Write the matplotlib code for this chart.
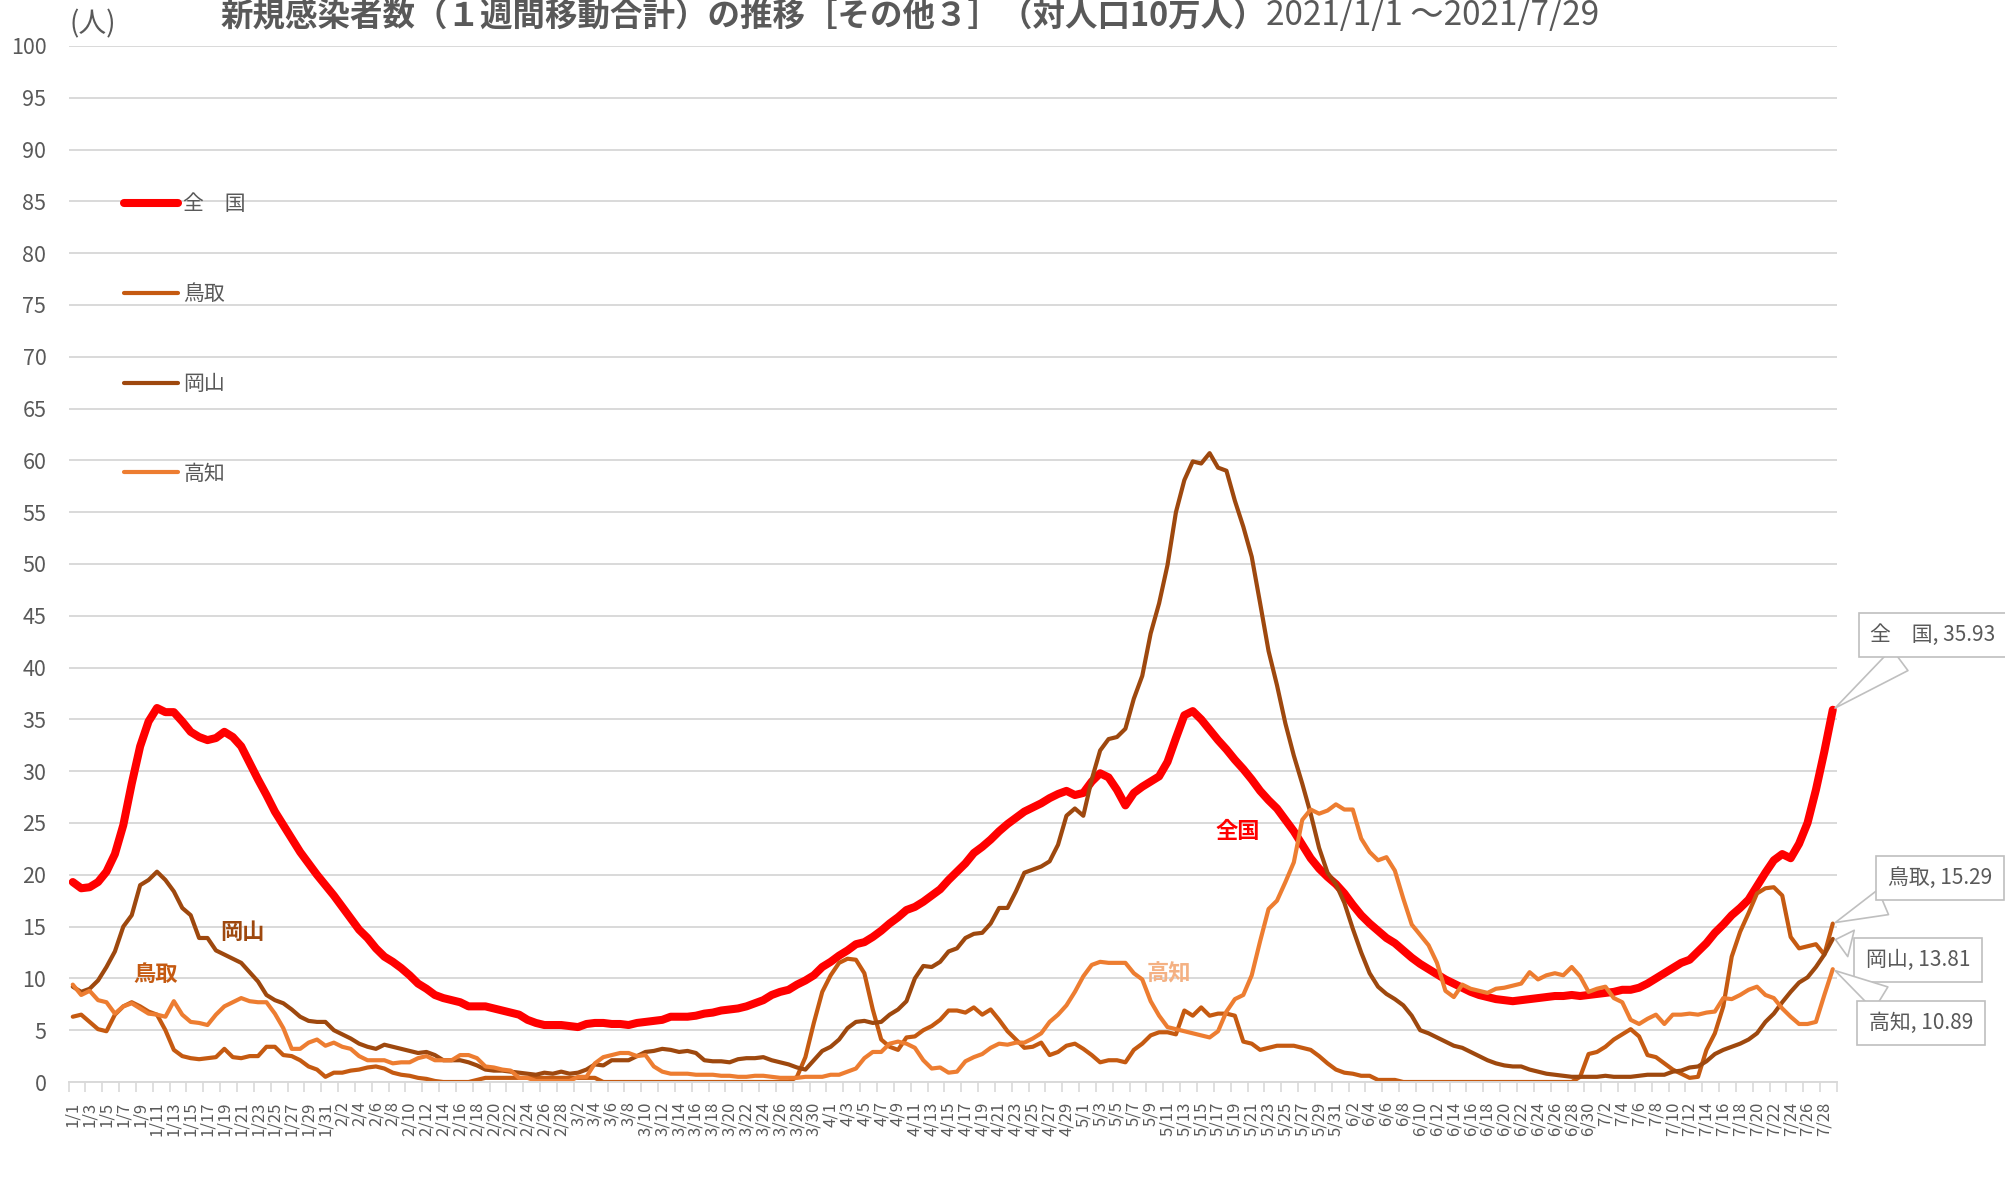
import matplotlib
matplotlib.use('Agg')
import matplotlib.pyplot as plt
import numpy as np
import pandas as pd

plt.rcParams['font.family'] = ['Noto Sans CJK JP', 'DejaVu Sans']

# daily values, 2021/1/1 - 2021/7/29 (per 100k, 7-day sum)
dates = pd.date_range('2021-01-01', '2021-07-29', freq='D')

zenkoku = [
    19.3, 18.7, 18.8, 19.3, 20.3, 22.0, 24.8, 28.8, 32.4, 34.8,
    36.1, 35.7, 35.7, 34.8, 33.8, 33.3, 33.0, 33.2, 33.8, 33.3,
    32.4, 30.8, 29.2, 27.7, 26.1, 24.8, 23.5, 22.2, 21.1, 20.0,
    19.0, 18.0, 16.9, 15.8, 14.7, 13.9, 12.9, 12.1, 11.6, 11.0,
    10.3, 9.5, 9.0, 8.4, 8.1, 7.9, 7.7, 7.3, 7.3, 7.3,
    7.1, 6.9, 6.7, 6.5, 6.0, 5.7, 5.5, 5.5, 5.5, 5.4,
    5.3, 5.6, 5.7, 5.7, 5.6, 5.6, 5.5, 5.7, 5.8, 5.9,
    6.0, 6.3, 6.3, 6.3, 6.4, 6.6, 6.7, 6.9, 7.0, 7.1,
    7.3, 7.6, 7.9, 8.4, 8.7, 8.9, 9.4, 9.8, 10.3, 11.1,
    11.6, 12.2, 12.7, 13.3, 13.5, 14.0, 14.6, 15.3, 15.9, 16.6,
    16.9, 17.4, 18.0, 18.6, 19.5, 20.3, 21.1, 22.1, 22.7, 23.4,
    24.2, 24.9, 25.5, 26.1, 26.5, 26.9, 27.4, 27.8, 28.1, 27.7,
    27.9, 29.0, 29.8, 29.4, 28.2, 26.7, 27.9, 28.5, 29.0, 29.5,
    30.9, 33.2, 35.4, 35.8, 35.0, 34.0, 33.0, 32.1, 31.1, 30.2,
    29.2, 28.1, 27.2, 26.4, 25.3, 24.2, 22.9, 21.6, 20.6, 19.8,
    19.1, 18.2, 17.1, 16.1, 15.3, 14.6, 13.9, 13.4, 12.7, 12.0,
    11.4, 10.9, 10.4, 9.9, 9.5, 9.1, 8.7, 8.4, 8.2, 8.0,
    7.9, 7.8, 7.9, 8.0, 8.1, 8.2, 8.3, 8.3, 8.4, 8.3,
    8.4, 8.5, 8.6, 8.7, 8.9, 8.9, 9.1, 9.5, 10.0, 10.5,
    11.0, 11.5, 11.8, 12.6, 13.4, 14.4, 15.2, 16.1, 16.8, 17.6,
    18.9, 20.2, 21.4, 22.0, 21.6, 23.0, 25.0, 28.2, 31.9, 35.93,
]

tottori = [
    6.3, 6.5, 5.8, 5.1, 4.9, 6.5, 7.3, 7.7, 7.3, 6.8,
    6.5, 5.0, 3.1, 2.5, 2.3, 2.2, 2.3, 2.4, 3.2, 2.4,
    2.3, 2.5, 2.5, 3.4, 3.4, 2.6, 2.5, 2.1, 1.5, 1.2,
    0.5, 0.9, 0.9, 1.1, 1.2, 1.4, 1.5, 1.3, 0.9, 0.7,
    0.6, 0.4, 0.3, 0.1, 0.0, 0.0, 0.0, 0.0, 0.2, 0.4,
    0.4, 0.4, 0.4, 0.4, 0.4, 0.4, 0.4, 0.4, 0.4, 0.4,
    0.4, 0.4, 0.4, 0.0, 0.0, 0.0, 0.0, 0.0, 0.0, 0.0,
    0.0, 0.0, 0.0, 0.0, 0.0, 0.0, 0.0, 0.0, 0.0, 0.0,
    0.0, 0.0, 0.0, 0.0, 0.0, 0.0, 0.5, 2.4, 5.7, 8.7,
    10.3, 11.5, 11.9, 11.8, 10.5, 7.0, 4.1, 3.4, 3.1, 4.3,
    4.4, 5.0, 5.4, 6.0, 6.9, 6.9, 6.7, 7.2, 6.5, 7.0,
    6.0, 4.9, 4.1, 3.3, 3.4, 3.8, 2.6, 2.9, 3.5, 3.7,
    3.2, 2.6, 1.9, 2.1, 2.1, 1.9, 3.1, 3.7, 4.5, 4.8,
    4.8, 4.6, 6.9, 6.4, 7.2, 6.4, 6.6, 6.6, 6.4, 3.9,
    3.7, 3.1, 3.3, 3.5, 3.5, 3.5, 3.3, 3.1, 2.5, 1.8,
    1.2, 0.9, 0.8, 0.6, 0.6, 0.2, 0.2, 0.2, 0.0, 0.0,
    0.0, 0.0, 0.0, 0.0, 0.0, 0.0, 0.0, 0.0, 0.0, 0.0,
    0.0, 0.0, 0.0, 0.0, 0.0, 0.0, 0.0, 0.0, 0.0, 0.5,
    2.7, 2.9, 3.4, 4.1, 4.6, 5.1, 4.4, 2.6, 2.4, 1.8,
    1.2, 0.8, 0.4, 0.5, 3.1, 4.7, 7.3, 12.1, 14.5, 16.3,
    18.2, 18.7, 18.8, 18.0, 14.0, 12.9, 13.1, 13.3, 12.3, 15.29,
]

okayama = [
    9.2, 8.7, 9.0, 9.8, 11.1, 12.6, 15.0, 16.1, 19.0, 19.5,
    20.3, 19.5, 18.4, 16.8, 16.1, 13.9, 13.9, 12.7, 12.3, 11.9,
    11.5, 10.6, 9.7, 8.4, 7.9, 7.6, 7.0, 6.3, 5.9, 5.8,
    5.8, 5.0, 4.6, 4.2, 3.7, 3.4, 3.2, 3.6, 3.4, 3.2,
    3.0, 2.8, 2.9, 2.6, 2.1, 2.1, 2.1, 1.9, 1.6, 1.2,
    1.1, 1.1, 1.0, 0.9, 0.8, 0.7, 0.9, 0.8, 1.0, 0.8,
    0.9, 1.2, 1.7, 1.6, 2.1, 2.1, 2.1, 2.5, 2.9, 3.0,
    3.2, 3.1, 2.9, 3.0, 2.8, 2.1, 2.0, 2.0, 1.9, 2.2,
    2.3, 2.3, 2.4, 2.1, 1.9, 1.7, 1.4, 1.2, 2.1, 3.0,
    3.4, 4.1, 5.2, 5.8, 5.9, 5.7, 5.8, 6.5, 7.0, 7.8,
    10.0, 11.2, 11.1, 11.6, 12.6, 12.9, 13.9, 14.3, 14.4, 15.3,
    16.8, 16.8, 18.4, 20.2, 20.5, 20.8, 21.3, 22.9, 25.7, 26.4,
    25.7, 29.2, 32.0, 33.1, 33.3, 34.1, 37.0, 39.2, 43.3, 46.2,
    49.9, 55.0, 58.1, 59.9, 59.7, 60.7, 59.3, 59.0, 56.1, 53.6,
    50.7, 46.2, 41.6, 38.3, 34.6, 31.5, 28.8, 25.9, 22.6, 20.2,
    19.1, 17.3, 14.8, 12.5, 10.5, 9.2, 8.5, 8.0, 7.4, 6.4,
    5.0, 4.7, 4.3, 3.9, 3.5, 3.3, 2.9, 2.5, 2.1, 1.8,
    1.6, 1.5, 1.5, 1.2, 1.0, 0.8, 0.7, 0.6, 0.5, 0.5,
    0.5, 0.5, 0.6, 0.5, 0.5, 0.5, 0.6, 0.7, 0.7, 0.7,
    1.0, 1.1, 1.4, 1.5, 2.0, 2.7, 3.1, 3.4, 3.7, 4.1,
    4.7, 5.8, 6.6, 7.7, 8.7, 9.6, 10.1, 11.1, 12.3, 13.81,
]

kochi = [
    9.4, 8.4, 8.8, 7.9, 7.7, 6.6, 7.3, 7.6, 7.1, 6.6,
    6.5, 6.3, 7.8, 6.5, 5.8, 5.7, 5.5, 6.5, 7.3, 7.7,
    8.1, 7.8, 7.7, 7.7, 6.6, 5.2, 3.2, 3.2, 3.8, 4.1,
    3.5, 3.8, 3.4, 3.2, 2.5, 2.1, 2.1, 2.1, 1.8, 1.9,
    1.9, 2.3, 2.5, 2.1, 2.1, 2.1, 2.6, 2.6, 2.3, 1.5,
    1.4, 1.2, 1.1, 0.4, 0.4, 0.1, 0.1, 0.1, 0.1, 0.1,
    0.5, 0.5, 1.8, 2.4, 2.6, 2.8, 2.8, 2.5, 2.6, 1.5,
    1.0, 0.8, 0.8, 0.8, 0.7, 0.7, 0.7, 0.6, 0.6, 0.5,
    0.5, 0.6, 0.6, 0.5, 0.4, 0.4, 0.4, 0.5, 0.5, 0.5,
    0.7, 0.7, 1.0, 1.3, 2.3, 2.9, 2.9, 3.7, 3.9, 3.7,
    3.3, 2.1, 1.3, 1.4, 0.9, 1.0, 2.0, 2.4, 2.7, 3.3,
    3.7, 3.6, 3.8, 3.8, 4.2, 4.7, 5.8, 6.5, 7.4, 8.7,
    10.2, 11.3, 11.6, 11.5, 11.5, 11.5, 10.5, 9.9, 7.8, 6.4,
    5.3, 5.1, 4.9, 4.7, 4.5, 4.3, 4.9, 6.8, 8.0, 8.4,
    10.3, 13.6, 16.7, 17.5, 19.3, 21.2, 25.3, 26.3, 25.9, 26.2,
    26.8, 26.3, 26.3, 23.5, 22.2, 21.4, 21.7, 20.4, 17.7, 15.2,
    14.2, 13.2, 11.5, 8.8, 8.2, 9.4, 9.0, 8.8, 8.6, 9.0,
    9.1, 9.3, 9.5, 10.6, 9.9, 10.3, 10.5, 10.3, 11.1, 10.2,
    8.7, 9.0, 9.2, 8.1, 7.7, 6.0, 5.6, 6.1, 6.5, 5.6,
    6.5, 6.5, 6.6, 6.5, 6.7, 6.8, 8.1, 8.0, 8.4, 8.9,
    9.2, 8.4, 8.1, 7.1, 6.3, 5.6, 5.6, 5.8, 8.4, 10.89,
]

labels = ['全\u3000国', '鳥取', '岡山', '高知']
colors = ['#FF0000', '#C55A11', '#9E480E', '#ED7D31']
widths = [5.8, 3.0, 3.0, 3.0]
series = [zenkoku, tottori, okayama, kochi]

tick_labels = [f'{d.month}/{d.day}' for d in dates[::2]]

fig = plt.figure(figsize=(20.05, 11.82), dpi=100)
ax = fig.add_axes([0.0342, 0.0846, 0.882, 0.8765])

x = np.arange(len(dates))
for vals, lab, c, lw in zip(series, labels, colors, widths):
    ax.plot(x, vals, color=c, lw=lw, label=lab, solid_joinstyle='round', solid_capstyle='round')

ax.set_xlim(-0.5, len(dates) - 0.5)
ax.set_ylim(0, 100)
ax.set_yticks(np.arange(0, 101, 5))
ax.grid(axis='y', color='#D9D9D9', lw=1.4)
ax.set_axisbelow(True)
for s in ['top', 'right', 'left']:
    ax.spines[s].set_visible(False)
ax.spines['bottom'].set_color('#D9D9D9')
ax.spines['bottom'].set_linewidth(1.4)
ax.tick_params(axis='y', length=0, pad=16, labelsize=15.5, labelcolor='#595959')

ax.set_xticks(x[::2])
ax.set_xticklabels(tick_labels, rotation=90)
ax.set_xticks(np.arange(-0.5, len(dates), 2), minor=True)
ax.tick_params(axis='x', which='major', length=0, pad=14, labelsize=12, labelcolor='#595959')
ax.tick_params(axis='x', which='minor', length=7, width=1.2, color='#D9D9D9')

leg = ax.legend(loc='upper left', bbox_to_anchor=(124 / 2005, 1 - 193 / 1182),
                bbox_transform=fig.transFigure, frameon=False, fontsize=15,
                labelcolor='#595959', handlelength=2.6, handletextpad=0.25,
                labelspacing=3.26, borderpad=0, borderaxespad=0)

# inline series names
ax.text(20.2, 14.4, '岡山', color='#9E480E', fontsize=16, weight='bold', ha='center', va='center')
ax.text(9.9, 10.4, '鳥取', color='#C55A11', fontsize=16, weight='bold', ha='center', va='center')
ax.text(138.4, 24.2, '全国', color='#FF0000', fontsize=16, weight='bold', ha='center', va='center')
ax.text(130.2, 10.4, '高知', color='#F4B183', fontsize=16, weight='bold', ha='center', va='center')

# data callouts at the last day
callout_pos = [(1933, 547), (1940, 304), (1918, 222), (1921, 159)]
for vals, lab, pos in zip(series, labels, callout_pos):
    ax.annotate(f'{lab}, {vals[-1]:.2f}', xy=(x[-1], vals[-1]), xytext=pos,
                textcoords='figure pixels', ha='center', va='center',
                fontsize=15, color='#595959', annotation_clip=False,
                bbox=dict(boxstyle='square,pad=0.55', fc='white', ec='#BFBFBF', lw=1.2),
                arrowprops=dict(arrowstyle='wedge,tail_width=1.3', fc='white', ec='#BFBFBF', lw=1.2))

title_y = 1 - 25 / 1182
t1 = fig.text(220 / 2005, title_y, '新規感染者数（１週間移動合計）の推移［その他３］（対人口10万人）',
              fontsize=23.4, weight='bold', color='#595959', va='baseline')
fig.canvas.draw()
bb = t1.get_window_extent()
fig.text(bb.x1 / fig.bbox.width, title_y, '2021/1/1 ～2021/7/29', fontsize=24, color='#595959', va='baseline')
fig.text(70 / 2005, 1 - 24 / 1182, '(人)', fontsize=20, color='#595959', va='center')

fig.savefig('out.png', dpi=100)
